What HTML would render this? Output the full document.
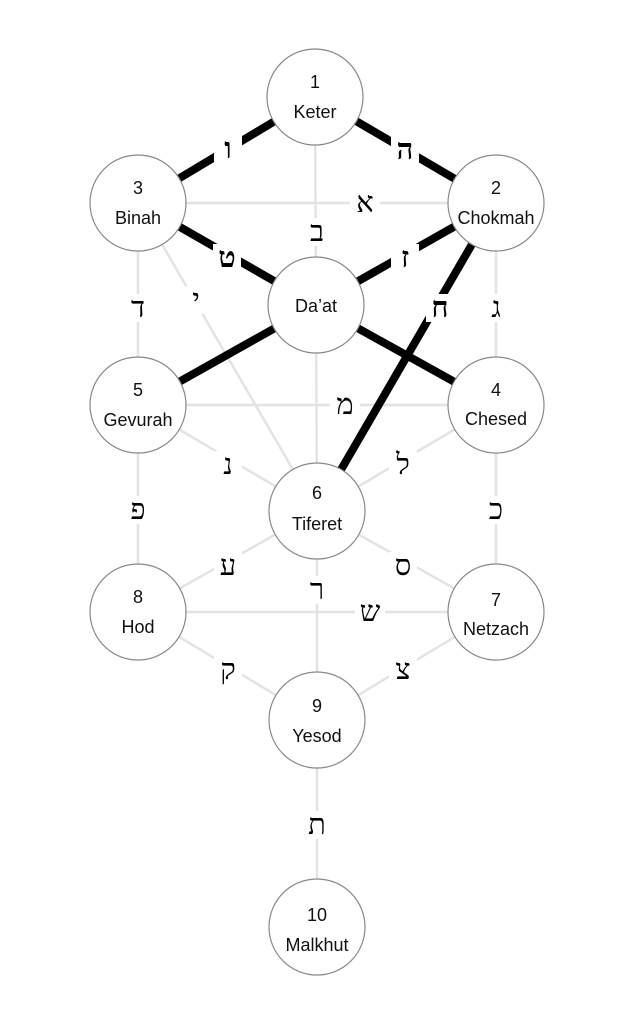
<!DOCTYPE html>
<html><head><meta charset="utf-8">
<style>
html,body{margin:0;padding:0;background:#fff;}
svg{display:block;}
.n{font-family:"Liberation Sans","DejaVu Sans",sans-serif;font-size:18px;fill:#111;text-anchor:middle;}
.h{font-family:"Liberation Serif","DejaVu Serif",serif;font-size:29px;fill:#000;text-anchor:middle;dominant-baseline:central;}
.hb{font-weight:bold;}
</style></head><body>
<svg width="633" height="1024" viewBox="0 0 633 1024" xmlns="http://www.w3.org/2000/svg">
<g stroke="#e3e3e3" stroke-width="2.5" fill="none">
<line x1="315" y1="97" x2="316" y2="305"/>
<line x1="138" y1="203" x2="496" y2="203"/>
<line x1="138" y1="203" x2="138" y2="405"/>
<line x1="496" y1="203" x2="496" y2="405"/>
<line x1="138" y1="203" x2="317" y2="511"/>
<line x1="138" y1="405" x2="496" y2="405"/>
<line x1="138" y1="405" x2="317" y2="511"/>
<line x1="496" y1="405" x2="317" y2="511"/>
<line x1="316" y1="305" x2="317" y2="511"/>
<line x1="138" y1="405" x2="138" y2="612"/>
<line x1="496" y1="405" x2="496" y2="612"/>
<line x1="317" y1="511" x2="138" y2="612"/>
<line x1="317" y1="511" x2="496" y2="612"/>
<line x1="317" y1="511" x2="317" y2="720"/>
<line x1="138" y1="612" x2="496" y2="612"/>
<line x1="138" y1="612" x2="317" y2="720"/>
<line x1="496" y1="612" x2="317" y2="720"/>
<line x1="317" y1="720" x2="317" y2="927"/>
</g>
<g stroke="#000" stroke-width="8" fill="none">
<line x1="315" y1="97" x2="138" y2="203"/>
<line x1="315" y1="97" x2="496" y2="203"/>
<line x1="138" y1="203" x2="316" y2="305"/>
<line x1="496" y1="203" x2="316" y2="305"/>
<line x1="496" y1="203" x2="317" y2="511"/>
<line x1="316" y1="305" x2="138" y2="405"/>
<line x1="316" y1="305" x2="496" y2="405"/>
</g>
<g fill="#fff">
<rect x="214" y="135" width="28" height="28"/>
<rect x="391" y="136" width="28" height="28"/>
<rect x="213" y="244" width="28" height="28"/>
<rect x="391" y="244" width="28" height="28"/>
<rect x="426" y="294" width="28" height="28"/>
<rect x="350" y="189" width="30" height="28"/>
<rect x="302" y="218" width="30" height="28"/>
<rect x="124" y="294" width="28" height="28"/>
<rect x="482" y="294" width="28" height="28"/>
<rect x="186" y="286" width="20" height="28"/>
<rect x="330" y="391" width="30" height="28"/>
<rect x="214" y="451" width="28" height="28"/>
<rect x="389" y="451" width="28" height="28"/>
<rect x="124" y="496" width="28" height="28"/>
<rect x="482" y="496" width="28" height="28"/>
<rect x="214" y="552" width="28" height="28"/>
<rect x="389" y="552" width="28" height="28"/>
<rect x="303" y="576" width="28" height="28"/>
<rect x="355" y="598" width="30" height="28"/>
<rect x="214" y="656" width="28" height="28"/>
<rect x="389" y="656" width="28" height="28"/>
<rect x="303" y="811" width="28" height="28"/>
</g>
<g class="h">
<text class="h hb" x="228" y="149">ו</text>
<text class="h hb" x="405" y="150">ה</text>
<text class="h hb" x="227" y="258">ט</text>
<text class="h hb" x="405" y="258">ז</text>
<text class="h hb" x="440" y="308">ח</text>
<text class="h" x="365" y="203">א</text>
<text class="h" x="317" y="232">ב</text>
<text class="h" x="138" y="308">ד</text>
<text class="h" x="496" y="308">ג</text>
<text class="h" x="196" y="300">י</text>
<text class="h" x="345" y="405">מ</text>
<text class="h" x="228" y="465">נ</text>
<text class="h" x="403" y="465">ל</text>
<text class="h" x="138" y="510">פ</text>
<text class="h" x="496" y="510">כ</text>
<text class="h" x="228" y="566">ע</text>
<text class="h" x="403" y="566">ס</text>
<text class="h" x="317" y="590">ר</text>
<text class="h" x="370" y="612">ש</text>
<text class="h" x="228" y="670">ק</text>
<text class="h" x="403" y="670">צ</text>
<text class="h" x="317" y="825">ת</text>
</g>
<g fill="#fff" stroke="#888" stroke-width="1.2">
<circle cx="315" cy="97" r="48"/>
<circle cx="138" cy="203" r="48"/>
<circle cx="496" cy="203" r="48"/>
<circle cx="316" cy="305" r="48"/>
<circle cx="138" cy="405" r="48"/>
<circle cx="496" cy="405" r="48"/>
<circle cx="317" cy="511" r="48"/>
<circle cx="138" cy="612" r="48"/>
<circle cx="496" cy="612" r="48"/>
<circle cx="317" cy="720" r="48"/>
<circle cx="317" cy="927" r="48"/>
</g>
<g class="n">
<text x="315" y="88">1</text><text x="315" y="118">Keter</text>
<text x="138" y="194">3</text><text x="138" y="224">Binah</text>
<text x="496" y="194">2</text><text x="496" y="224">Chokmah</text>
<text x="316" y="312">Da’at</text>
<text x="138" y="396">5</text><text x="138" y="426">Gevurah</text>
<text x="496" y="396">4</text><text x="496" y="425">Chesed</text>
<text x="317" y="499">6</text><text x="317" y="530">Tiferet</text>
<text x="138" y="603">8</text><text x="138" y="633">Hod</text>
<text x="496" y="606">7</text><text x="496" y="635">Netzach</text>
<text x="317" y="712">9</text><text x="317" y="742">Yesod</text>
<text x="317" y="921">10</text><text x="317" y="951">Malkhut</text>
</g>
</svg>
</body></html>
